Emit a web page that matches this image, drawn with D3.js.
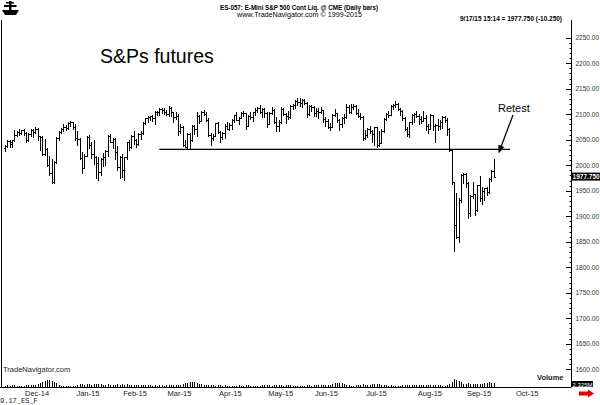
<!DOCTYPE html>
<html>
<head>
<meta charset="utf-8">
<script src="https://cdn.jsdelivr.net/npm/d3@7"></script>
<style>
  body { margin: 0; background: #fff; }
  svg { display: block; font-family: "Liberation Sans", Arial, sans-serif; }
</style>
</head>
<body>
<div id="chart"></div>
<script>
// daily bars, ES continuous, Nov 17 2014 .. Sep 17 2015 (index = trading day)
const opens = [
  2033,2038,2048,2042,2050,2060,2066,2063,2069,
  2063,2050,2062,2069,2065,2072,2057,2055,2022,2032,2000,1985,1968,2006,2054,2066,2071,2075,2073,2082,2084,2074,
  2053,2051,2015,1995,2019,2055,2040,2022,2016,2005,1986,2013,2017,2027,2057,2046,2052,2025,1996,2016,
  1990,2016,2045,2036,2057,2049,2042,2062,2063,2083,2092,2095,2096,2093,2105,2104,2110,2108,2105,
  2100,2113,2104,2094,2097,2067,2075,2040,2036,2061,2049,2077,2071,2097,2086,2104,2101,2088,2059,2053,2058,2082,
  2065,2056,2063,2077,2072,2079,2088,2098,2089,2093,2103,2102,2077,2096,2094,2104,2108,2113,2104,2111,2102,
  2081,2103,2108,2084,2077,2084,2111,2100,2096,2094,2117,2119,2126,2123,2122,2128,2122,2100,2117,2114,
  2102,2106,2104,2108,2090,2086,2074,2075,2099,2102,2088,2080,2092,2094,2115,2104,2115,2117,2102,2096,2095,2053,
  2059,2071,2068,2062,2074,2039,2044,2068,2091,2101,2099,2116,2119,2121,2111,2106,2093,2072,2061,2084,2099,2100,
  2097,2090,2086,2093,2077,2072,2098,2077,2079,2077,2085,2095,2089,2072,2030,1967,1882,1860,1932,1981,1983,
  1966,1907,1940,1943,1913,1961,1935,1949,1955,1947,1973,1989
];
const highs = [
  2040,2050,2049,2050,2069,2068,2071,2070,2072,
  2065,2064,2071,2072,2075,2073,2058,2057,2052,2034,2018,2012,2008,2056,2068,2073,2080,2078,2084,2087,2085,2080,
  2067,2053,2025,2022,2057,2060,2046,2050,2018,2017,2015,2024,2030,2060,2061,2054,2053,2037,2019,2022,
  2017,2046,2050,2059,2068,2051,2064,2068,2085,2093,2096,2097,2098,2106,2107,2112,2113,2112,2109,
  2117,2114,2105,2104,2100,2080,2076,2050,2063,2064,2078,2078,2105,2099,2106,2109,2104,2093,2064,2062,2083,2084,
  2067,2066,2080,2085,2083,2091,2099,2104,2095,2105,2106,2103,2098,2105,2105,2112,2115,2119,2112,2112,2104,
  2105,2114,2110,2094,2088,2114,2113,2102,2106,2118,2121,2128,2131,2132,2129,2130,2123,2119,2118,2117,
  2112,2112,2115,2109,2094,2090,2083,2101,2111,2103,2090,2094,2100,2121,2119,2120,2121,2119,2111,2103,2096,2070,
  2073,2076,2070,2075,2075,2068,2072,2093,2102,2106,2118,2121,2125,2122,2112,2109,2095,2074,2085,2100,2102,2107,
  2100,2096,2106,2098,2080,2100,2099,2080,2090,2088,2096,2097,2092,2073,2032,1967,1945,1935,1983,1985,1985,
  1967,1942,1968,1944,1962,1979,1958,1956,1958,1975,1991,2013
];
const lows = [
  2028,2036,2035,2036,2048,2057,2060,2061,2060,
  2045,2048,2058,2056,2063,2050,2030,2020,2020,1998,1980,1966,1966,2004,2050,2063,2068,2070,2072,2076,2072,2050,
  2040,2013,1984,1995,2018,2033,2015,2002,1975,1972,1980,1998,2000,2018,2045,2034,2012,1990,1975,1977,
  1972,2013,2030,2034,2042,2036,2040,2052,2061,2080,2084,2088,2087,2080,2098,2099,2103,2100,2098,
  2097,2096,2085,2090,2060,2063,2038,2035,2034,2032,2047,2062,2058,2083,2086,2099,2087,2058,2040,2050,2057,2064,
  2045,2052,2053,2071,2069,2071,2085,2088,2080,2092,2096,2072,2076,2091,2087,2098,2105,2102,2094,2094,2074,
  2080,2100,2082,2067,2068,2083,2098,2083,2091,2093,2111,2112,2119,2116,2115,2120,2095,2098,2106,2096,
  2096,2093,2102,2085,2077,2073,2070,2074,2097,2085,2069,2075,2083,2092,2102,2103,2110,2101,2095,2090,2050,2052,
  2056,2063,2045,2039,2036,2038,2043,2066,2088,2094,2098,2110,2114,2108,2098,2088,2070,2057,2056,2081,2085,2094,
  2080,2082,2086,2070,2063,2071,2070,2045,2070,2072,2073,2085,2060,2028,1963,1831,1857,1850,1928,1965,1958,
  1897,1900,1936,1903,1910,1930,1925,1931,1942,1945,1970,1976
];
const closes = [
  2038,2048,2045,2049,2060,2066,2063,2069,2063,
  2050,2062,2069,2065,2072,2057,2055,2022,2032,2000,1985,1968,2006,2054,2066,2071,2075,2073,2082,2084,2074,2053,
  2051,2015,1995,2019,2055,2040,2022,2016,2005,1986,2013,2017,2027,2057,2046,2052,2025,1996,2016,1990,
  2016,2045,2036,2057,2049,2042,2062,2063,2083,2092,2095,2096,2093,2105,2104,2110,2108,2105,2100,
  2113,2104,2094,2097,2067,2075,2040,2036,2061,2049,2077,2071,2097,2086,2104,2101,2088,2059,2053,2058,2082,2065,
  2056,2063,2077,2072,2079,2088,2098,2089,2093,2103,2102,2077,2096,2094,2104,2108,2113,2104,2111,2102,2081,
  2103,2108,2084,2077,2084,2111,2100,2096,2094,2117,2119,2126,2123,2122,2128,2122,2100,2117,2114,2102,
  2106,2104,2108,2090,2086,2074,2075,2099,2102,2088,2080,2092,2094,2115,2104,2115,2117,2102,2096,2095,2053,2059,
  2071,2068,2062,2074,2039,2044,2068,2091,2101,2099,2116,2119,2121,2111,2106,2093,2072,2061,2084,2099,2100,2097,
  2090,2086,2093,2077,2072,2098,2077,2079,2077,2085,2095,2089,2072,2030,1967,1882,1860,1932,1981,1983,1966,
  1907,1940,1943,1913,1961,1935,1949,1955,1947,1973,1989,1977.75
];
// volume in millions of contracts
const volumes = [
  0.8,0.9,0.8,0.9,1.1,0.7,0.8,0.6,0.4,
  1.0,1.0,1.1,1.1,1.2,1.5,2.2,2.9,3.4,4.0,3.7,3.3,2.6,1.9,1.3,0.8,0.7,0.4,0.4,0.6,0.7,0.8,
  1.0,1.4,1.6,1.3,1.5,1.4,1.3,1.6,1.8,1.7,1.6,1.2,1.2,1.5,1.1,1.0,1.3,1.4,1.3,1.5,
  1.3,1.4,1.2,1.3,1.2,1.0,1.1,1.0,1.1,0.9,1.0,0.9,0.8,1.0,0.8,0.9,0.9,0.8,0.9,
  0.9,1.0,1.0,0.9,1.3,1.2,1.6,1.9,2.3,2.8,2.9,2.6,2.4,1.8,1.5,0.9,0.9,1.3,1.2,0.9,0.8,0.9,
  1.0,0.8,0.9,0.8,0.8,0.7,0.8,0.7,0.9,0.8,0.8,1.1,0.9,0.8,0.8,0.7,0.8,0.8,0.9,1.0,1.1,
  1.0,0.8,1.1,1.1,1.0,1.0,0.8,1.0,0.9,0.9,0.8,0.7,0.8,0.8,0.7,0.6,1.0,0.9,0.8,1.0,
  0.9,0.9,0.9,1.1,1.2,1.0,1.1,1.6,2.1,2.4,2.2,1.9,1.4,1.2,1.0,0.8,0.8,0.9,0.9,0.9,1.5,1.3,
  1.1,0.9,1.4,1.5,1.8,1.6,1.3,1.0,0.9,0.8,0.9,0.8,0.7,0.8,0.8,0.9,1.0,1.1,1.0,1.0,0.9,0.9,
  0.9,0.9,0.9,1.0,1.0,0.9,1.1,1.3,1.0,0.9,0.8,0.8,1.2,1.6,2.8,4.5,3.8,3.3,2.7,1.8,1.7,
  2.2,1.8,1.6,1.5,1.6,1.4,1.5,1.9,2.3,2.5,2.2,2.325
];

// first trading day of each month (bar index) and its label
const monthStart = [9, 31, 51, 70, 92, 113, 133, 155, 177, 198, 219];
const monthLabels = ["Dec-14","Jan-15","Feb-15","Mar-15","Apr-15","May-15","Jun-15","Jul-15","Aug-15","Sep-15","Oct-15"];
const priceTicks = [1600,1650,1700,1750,1800,1850,1900,1950,2000,2050,2100,2150,2200,2250];

// support line and last quote
const support = { level: 2031, from: 66, to: 216 };
const lastPrice = 1977.75;
const lastVolume = "2.325M";

const W = 600, H = 405;
const axisX = 571.5, baseY = 387;

const svg = d3.select("#chart").append("svg")
    .attr("width", W).attr("height", H);

const x = d3.scaleLinear().domain([9, 219]).range([26, 517]);
const y = d3.scaleLinear().domain([1600, 2250]).range([369.3, 37.7]);
const yVol = d3.scaleLinear().domain([0, 4.5]).range([baseY, baseY - 8.3]);

const px = i => Math.round(x(i)) + 0.5;

// frame: left border, right axis line, bottom axis line
svg.append("line").attr("x1", 1.5).attr("x2", 1.5).attr("y1", 20).attr("y2", baseY)
    .attr("stroke", "#000");
svg.append("line").attr("x1", axisX).attr("x2", axisX).attr("y1", 20).attr("y2", baseY)
    .attr("stroke", "#000");
svg.append("line").attr("x1", 0).attr("x2", axisX).attr("y1", baseY + 0.5).attr("y2", baseY + 0.5)
    .attr("stroke", "#000");

// right price axis: minor ticks every 10, major every 50
const minor = d3.range(1600, 2260, 10);
svg.append("g").selectAll("line").data(minor).enter().append("line")
    .attr("x1", d => d % 50 === 0 ? axisX - 5.5 : axisX - 2)
    .attr("x2", axisX)
    .attr("y1", d => Math.round(y(d)) + 0.5)
    .attr("y2", d => Math.round(y(d)) + 0.5)
    .attr("stroke", "#000");
svg.append("g").selectAll("text").data(priceTicks).enter().append("text")
    .attr("x", 575.5).attr("y", d => y(d) + 2.3)
    .attr("font-size", "6.5px").attr("fill", "#333")
    .text(d => d.toFixed(2));

// last price box
svg.append("rect").attr("x", 572).attr("y", y(lastPrice) - 4).attr("width", 28).attr("height", 8)
    .attr("fill", "#000");
svg.append("text").attr("x", 572.6).attr("y", y(lastPrice) + 2.4)
    .attr("font-size", "6.5px").attr("font-weight", "bold").attr("fill", "#fff")
    .text(lastPrice.toFixed(3));

// month labels
svg.append("g").selectAll("text").data(monthStart).enter().append("text")
    .attr("x", d => x(d) - 1).attr("y", 395.5)
    .attr("font-size", "7.5px").attr("fill", "#222")
    .text((d, i) => monthLabels[i]);

// volume bars
svg.append("g").selectAll("line").data(volumes).enter().append("line")
    .attr("x1", (d, i) => px(i)).attr("x2", (d, i) => px(i))
    .attr("y1", baseY).attr("y2", d => Math.round(yVol(d)))
    .attr("stroke", "#000").attr("shape-rendering", "crispEdges");

// price bars (high-low with open/close ticks)
const bars = svg.append("g").attr("stroke", "#000").attr("shape-rendering", "crispEdges");
highs.forEach((h, i) => {
    const cx = px(i);
    bars.append("line").attr("x1", cx).attr("x2", cx)
        .attr("y1", Math.round(y(h))).attr("y2", Math.round(y(lows[i])) + 1);
    bars.append("line").attr("x1", cx - 1.5).attr("x2", cx)
        .attr("y1", Math.round(y(opens[i])) + 0.5).attr("y2", Math.round(y(opens[i])) + 0.5);
    bars.append("line").attr("x1", cx).attr("x2", cx + 1.5)
        .attr("y1", Math.round(y(closes[i])) + 0.5).attr("y2", Math.round(y(closes[i])) + 0.5);
});

// support line
svg.append("line")
    .attr("x1", x(support.from)).attr("x2", x(support.to))
    .attr("y1", y(support.level)).attr("y2", y(support.level))
    .attr("stroke", "#000").attr("stroke-width", 1.4);

// Retest annotation
const tipX = px(highs.length - 1) + 4, tipY = y(support.level) + 4;
const tailX = 513, tailY = 115;
const ang = Math.atan2(tipY - tailY, tipX - tailX);
svg.append("line").attr("x1", tailX).attr("y1", tailY)
    .attr("x2", tipX - 5 * Math.cos(ang)).attr("y2", tipY - 5 * Math.sin(ang))
    .attr("stroke", "#000").attr("stroke-width", 1.3);
const hl = 8, hw = 3.2;
const bx = tipX - hl * Math.cos(ang), by = tipY - hl * Math.sin(ang);
svg.append("path")
    .attr("d", `M${tipX},${tipY} L${bx + hw * Math.sin(ang)},${by - hw * Math.cos(ang)} L${bx - hw * Math.sin(ang)},${by + hw * Math.cos(ang)} Z`)
    .attr("fill", "#000");
svg.append("text").attr("x", 498).attr("y", 112)
    .attr("font-size", "11px").attr("fill", "#000").text("Retest");

// chart title
svg.append("text").attr("x", 100).attr("y", 63)
    .attr("font-size", "19.5px").attr("fill", "#000").text("S&Ps futures");

// header
svg.append("text").attr("x", 299).attr("y", 9.5).attr("text-anchor", "middle")
    .attr("font-size", "7.5px").attr("font-weight", "bold")
    .attr("textLength", 158).attr("lengthAdjust", "spacingAndGlyphs")
    .text("ES-057:  E-Mini S&P 500 Cont Liq. @ CME  (Daily bars)");
svg.append("text").attr("x", 299.5).attr("y", 17.3).attr("text-anchor", "middle")
    .attr("font-size", "8px")
    .attr("textLength", 125).attr("lengthAdjust", "spacingAndGlyphs")
    .text("www.TradeNavigator.com \u00a9 1999-2015");
svg.append("text").attr("x", 460).attr("y", 20.5)
    .attr("font-size", "7px").attr("font-weight", "bold")
    .attr("textLength", 102).attr("lengthAdjust", "spacingAndGlyphs")
    .text("9/17/15 15:14 = 1977.750 (-10.250)");

// logo
const logo = svg.append("g").attr("fill", "#000");
logo.append("rect").attr("x", 9).attr("y", 1).attr("width", 2.5).attr("height", 12);
logo.append("rect").attr("x", 4).attr("y", 5).attr("width", 12.5).attr("height", 2);
logo.append("path").attr("d", "M2,10 L19,10 L16,15 L5,15 Z");
logo.append("rect").attr("x", 6).attr("y", 2).attr("width", 8).attr("height", 1.5);

// bottom texts
svg.append("text").attr("x", 3).attr("y", 372)
    .attr("font-size", "7.5px").attr("fill", "#222").text("TradeNavigator.com");
svg.append("text").attr("x", 537).attr("y", 379.5)
    .attr("font-size", "7.5px").attr("font-weight", "bold").attr("fill", "#222").text("Volume");
svg.append("rect").attr("x", 572).attr("y", 381).attr("width", 21).attr("height", 6).attr("fill", "#000");
svg.append("text").attr("x", 572.5).attr("y", 386.5)
    .attr("font-size", "6px").attr("fill", "#fff")
    .attr("textLength", 20).attr("lengthAdjust", "spacingAndGlyphs").text(lastVolume);
svg.append("path").attr("d", "M579,391.5 L588,391.5 L588,389.5 L594,393.5 L588,397.5 L588,395.5 L579,395.5 Z")
    .attr("fill", "#e00000");
svg.append("text").attr("x", 0).attr("y", 403)
    .attr("font-size", "7px").attr("font-family", "'Liberation Mono', 'DejaVu Sans Mono', monospace")
    .attr("fill", "#222").text("9.17_ES_F");
</script>
</body>
</html>
